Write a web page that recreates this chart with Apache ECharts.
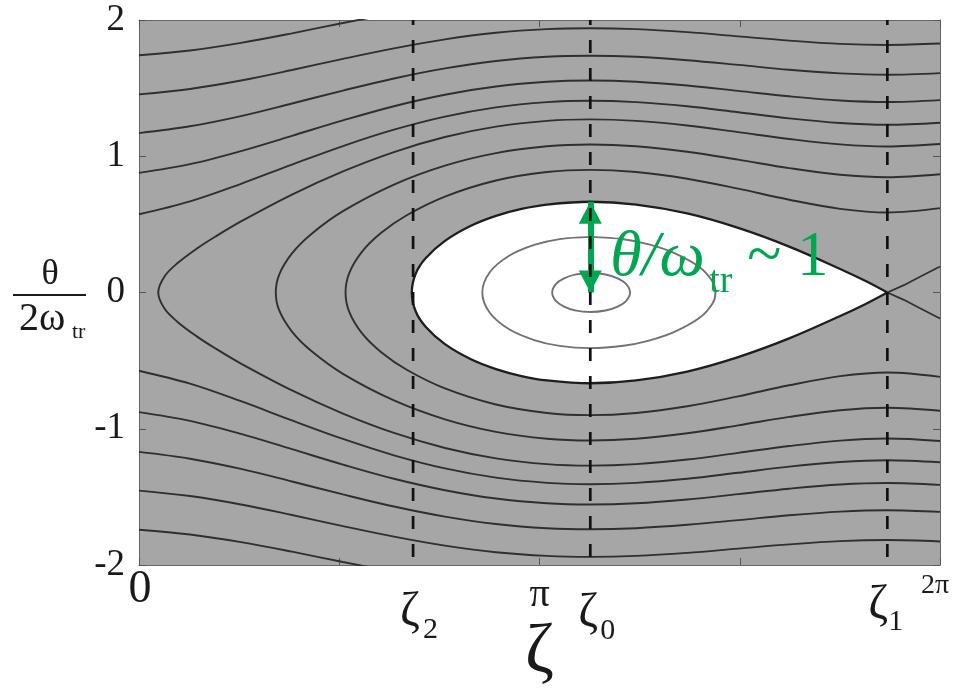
<!DOCTYPE html>
<html><head><meta charset="utf-8">
<script src="https://cdn.jsdelivr.net/npm/echarts@6/dist/echarts.min.js"></script>
<style>html,body{margin:0;padding:0;background:#fff}#c{width:958px;height:693px}</style>
</head><body><div id="c"></div>
<script>
const PI = Math.PI;
// ---- axis ticks / labels ----
const xTickValues = [0, PI / 2, PI, 3 * PI / 2, 2 * PI];
const xLabelValues = [0, PI, 2 * PI];
const xLabelTexts = ['0', 'π', '2π'];
const yTickLabels = ['-2', '-1', '0', '1', '2'];
// ---- special phases (dashed lines) ----
const markerZeta = [2.15, 3.54, 5.87];
const markerSub = ['2', '0', '1'];
// ---- passing orbits ----
const zetaGrid = [0, 0.4, 0.8, 1.2, 1.6, 2.0, 2.4, 2.8, 3.2, 3.54, 3.9, 4.3, 4.7, 5.1, 5.5, 5.87, 6.283];
const pass1Up = [1.454, 1.494, 1.556, 1.633, 1.715, 1.792, 1.858, 1.906, 1.933, 1.940, 1.933, 1.911, 1.880, 1.849, 1.825, 1.817, 1.827];
const pass2Up = [1.170, 1.220, 1.295, 1.387, 1.482, 1.571, 1.645, 1.699, 1.730, 1.738, 1.730, 1.705, 1.671, 1.635, 1.608, 1.598, 1.610];
const pass3Up = [0.878, 0.942, 1.038, 1.150, 1.263, 1.367, 1.451, 1.512, 1.547, 1.556, 1.547, 1.519, 1.480, 1.440, 1.409, 1.398, 1.412];
const pass4Up = [0.574, 0.669, 0.798, 0.939, 1.075, 1.195, 1.291, 1.359, 1.397, 1.407, 1.397, 1.367, 1.323, 1.278, 1.244, 1.231, 1.246];
const pass1Down = [-1.454, -1.494, -1.556, -1.633, -1.715, -1.792, -1.858, -1.906, -1.933, -1.940, -1.933, -1.911, -1.880, -1.849, -1.825, -1.817, -1.827];
const pass2Down = [-1.170, -1.220, -1.295, -1.387, -1.482, -1.571, -1.645, -1.699, -1.730, -1.738, -1.730, -1.705, -1.671, -1.635, -1.608, -1.598, -1.610];
const pass3Down = [-0.878, -0.942, -1.038, -1.150, -1.263, -1.367, -1.451, -1.512, -1.547, -1.556, -1.547, -1.519, -1.480, -1.440, -1.409, -1.398, -1.412];
const pass4Down = [-0.574, -0.669, -0.798, -0.939, -1.075, -1.195, -1.291, -1.359, -1.397, -1.407, -1.397, -1.367, -1.323, -1.278, -1.244, -1.231, -1.246];
// orbit leaving through top / bottom edge
const exitZeta = [0, 0.4, 0.8, 1.2, 1.6, 2.0];
const exitUp = [1.741, 1.776, 1.832, 1.902, 1.978, 2.05];
const exitDown = [-1.741, -1.776, -1.832, -1.902, -1.978, -2.05];
// open (turning) orbits
const open5Zeta = [6.283, 5.87, 5.5, 5.1, 4.7, 4.3, 3.9, 3.54, 3.2, 2.8, 2.4, 2.0, 1.6, 1.2, 0.8, 0.6, 0.45, 0.3, 0.2, 0.151, 0.2, 0.3, 0.45, 0.6, 0.8, 1.2, 1.6, 2.0, 2.4, 2.8, 3.2, 3.54, 3.9, 4.3, 4.7, 5.1, 5.5, 5.87, 6.283];
const open5Y = [1.090, 1.072, 1.087, 1.127, 1.177, 1.226, 1.260, 1.271, 1.260, 1.217, 1.141, 1.031, 0.889, 0.719, 0.522, 0.411, 0.320, 0.214, 0.118, 0, -0.118, -0.214, -0.320, -0.411, -0.522, -0.719, -0.889, -1.031, -1.141, -1.217, -1.260, -1.271, -1.260, -1.226, -1.177, -1.127, -1.087, -1.072, -1.090];
const open6Zeta = [6.283, 5.87, 5.5, 5.1, 4.7, 4.3, 3.9, 3.54, 3.2, 2.8, 2.4, 2.0, 1.6, 1.35, 1.2, 1.1, 1.073, 1.1, 1.2, 1.35, 1.6, 2.0, 2.4, 2.8, 3.2, 3.54, 3.9, 4.3, 4.7, 5.1, 5.5, 5.87, 6.283];
const open6Y = [0.868, 0.846, 0.864, 0.913, 0.975, 1.033, 1.073, 1.086, 1.073, 1.023, 0.931, 0.792, 0.597, 0.428, 0.287, 0.132, 0, -0.132, -0.287, -0.428, -0.597, -0.792, -0.931, -1.023, -1.073, -1.086, -1.073, -1.033, -0.975, -0.913, -0.864, -0.846, -0.868];
const open7Zeta = [6.283, 5.87, 5.5, 5.1, 4.7, 4.3, 3.9, 3.54, 3.2, 2.8, 2.4, 2.1, 1.9, 1.75, 1.65, 1.62, 1.65, 1.75, 1.9, 2.1, 2.4, 2.8, 3.2, 3.54, 3.9, 4.3, 4.7, 5.1, 5.5, 5.87, 6.283];
const open7Y = [0.619, 0.587, 0.614, 0.681, 0.762, 0.835, 0.884, 0.900, 0.884, 0.822, 0.704, 0.567, 0.438, 0.300, 0.144, 0, -0.144, -0.300, -0.438, -0.567, -0.704, -0.822, -0.884, -0.900, -0.884, -0.835, -0.762, -0.681, -0.614, -0.587, -0.619];
// separatrix (bucket) and its tails
const sepZeta = [5.87, 5.7, 5.5, 5.1, 4.7, 4.3, 3.9, 3.54, 3.2, 3.0, 2.8, 2.6, 2.4, 2.25, 2.17, 2.14, 2.17, 2.25, 2.4, 2.6, 2.8, 3.0, 3.2, 3.54, 3.9, 4.3, 4.7, 5.1, 5.5, 5.7, 5.87];
const sepY = [0, 0.084, 0.173, 0.337, 0.474, 0.580, 0.645, 0.666, 0.645, 0.613, 0.562, 0.488, 0.379, 0.253, 0.138, 0, -0.138, -0.253, -0.379, -0.488, -0.562, -0.613, -0.645, -0.666, -0.645, -0.580, -0.474, -0.337, -0.173, -0.084, 0];
const tailZeta = [6.283, 6.1, 6.0, 5.87, 6.0, 6.1, 6.283];
const tailY = [0.191, 0.102, 0.054, 0, -0.054, -0.102, -0.191];
// inner closed orbits
const loopBigZeta = [3.54, 3.8, 4.0, 4.2, 4.4, 4.5, 4.522, 4.5, 4.4, 4.2, 4.0, 3.8, 3.54, 3.3, 3.1, 2.9, 2.75, 2.693, 2.75, 2.9, 3.1, 3.3, 3.54];
const loopBigY = [0.408, 0.391, 0.353, 0.289, 0.184, 0.079, 0, -0.079, -0.184, -0.289, -0.353, -0.391, -0.408, -0.392, -0.349, -0.268, -0.147, 0, 0.147, 0.268, 0.349, 0.392, 0.408];
const loopSmallZeta = [3.54, 3.66, 3.75, 3.82, 3.852, 3.82, 3.75, 3.66, 3.54, 3.42, 3.33, 3.27, 3.241, 3.27, 3.33, 3.42, 3.54];
const loopSmallY = [0.143, 0.132, 0.105, 0.063, 0, -0.063, -0.105, -0.132, -0.143, -0.131, -0.102, -0.062, 0, 0.062, 0.102, 0.131, 0.143];
// annotation arrow: bucket half height at zeta0
const arrowFrom = [3.54, 0];
const arrowTo = [3.54, 0.666];

const serif = '"Liberation Serif", "Times New Roman", serif';
const pairs = (xs, ys) => xs.map((x, i) => [x, ys[i]]);
const contourStyle = { color: '#2f2f2f', width: 1.9 };
function curve(data, style, extra) {
  return Object.assign({ type: 'line', data: data, smooth: 0.35, symbol: 'none', showSymbol: false,
    lineStyle: style, silent: true, animation: false, z: 3, clip: true }, extra || {});
}

const series = [];
// white bucket interior (two halves + seam cover along the symmetry axis)
series.push(curve(pairs(sepZeta.slice(0, 16), sepY.slice(0, 16)), { width: 0, opacity: 0 }, { z: 1, areaStyle: { color: '#ffffff', opacity: 1, origin: 0 } }));
series.push(curve(pairs(sepZeta.slice(15), sepY.slice(15)), { width: 0, opacity: 0 }, { z: 1, areaStyle: { color: '#ffffff', opacity: 1, origin: 0 } }));
series.push(curve([[sepZeta[15], 0], [sepZeta[0], 0]], { color: '#ffffff', width: 3 }, { z: 2, smooth: false }));
// passing orbits
[pass1Up, pass2Up, pass3Up, pass4Up, pass1Down, pass2Down, pass3Down, pass4Down].forEach(ys => series.push(curve(pairs(zetaGrid, ys), contourStyle)));
series.push(curve(pairs(exitZeta, exitUp), contourStyle));
series.push(curve(pairs(exitZeta, exitDown), contourStyle));
series.push(curve(pairs(open5Zeta, open5Y), contourStyle));
series.push(curve(pairs(open6Zeta, open6Y), contourStyle));
series.push(curve(pairs(open7Zeta, open7Y), contourStyle));
// separatrix
series.push(curve(pairs(sepZeta, sepY), { color: '#1e1e1e', width: 2.3 }, { z: 4 }));
series.push(curve(pairs(tailZeta, tailY), { color: '#2f2f2f', width: 1.7 }, { smooth: false }));
// inner orbits
series.push(curve(pairs(loopBigZeta, loopBigY), { color: '#727272', width: 1.9 }));
series.push(curve(pairs(loopSmallZeta, loopSmallY), { color: '#727272', width: 1.9 }));
// dashed markers
markerZeta.forEach(z => series.push(curve([[z, 2], [z, -2]], { color: '#111', width: 2.7, type: [13, 15], dashOffset: 8 }, { smooth: false, z: 5 })));
// green double arrow
series.push({ type: 'line', data: [], silent: true, animation: false, z: 6,
  markLine: { silent: true, animation: false, symbol: ['triangle', 'triangle'], symbolSize: [23, 22],
    symbolOffset: [[0, 11], [0, 11]], label: { show: false },
    lineStyle: { color: '#00a650', width: 6, type: 'solid' },
    emphasis: { disabled: true },
    data: [[{ coord: arrowFrom }, { coord: arrowTo }]] } });

const axisCommon = { type: 'value', splitLine: { show: false },
  axisLine: { show: true, onZero: false, lineStyle: { color: '#666', width: 1 } } };

const option = {
  animation: false,
  backgroundColor: '#ffffff',
  grid: { left: 139, right: 18, top: 20, bottom: 128, show: true, backgroundColor: '#a6a6a6', borderWidth: 0, containLabel: false, outerBoundsMode: 'none' },
  xAxis: [
    Object.assign({}, axisCommon, { position: 'bottom', min: 0, max: 2 * PI,
      axisTick: { show: true, inside: true, length: 7, customValues: xTickValues, lineStyle: { color: '#555' } },
      axisLabel: { show: false } }),
    Object.assign({}, axisCommon, { position: 'top', min: 0, max: 2 * PI,
      axisTick: { show: true, inside: true, length: 7, customValues: xTickValues, lineStyle: { color: '#555' } },
      axisLabel: { show: false } })
  ],
  yAxis: [
    Object.assign({}, axisCommon, { position: 'left', min: -2, max: 2, interval: 1,
      axisTick: { show: true, inside: true, length: 7, lineStyle: { color: '#555' } },
      axisLabel: { show: true, margin: 14, fontFamily: serif, fontSize: 37, color: '#1a1a1a',
        formatter: v => yTickLabels[Math.round(v) + 2] } }),
    Object.assign({}, axisCommon, { position: 'right', min: -2, max: 2, interval: 1,
      axisTick: { show: true, inside: true, length: 7, lineStyle: { color: '#555' } },
      axisLabel: { show: false } })
  ],
  series: series
};

const chart = echarts.init(document.getElementById('c'), null, { renderer: 'canvas', width: 958, height: 693 });
chart.setOption(option);

// ---- text annotations anchored to the axes ----
const toPx = (z, y) => chart.convertToPixel({ xAxisIndex: 0, yAxisIndex: 0 }, [z, y]);
const mid = (baseline, fs) => baseline - 0.3375 * fs;
function txt(text, x, baseline, fs, opt) {
  opt = opt || {};
  return { type: 'text', silent: true, z: 100, style: { text: text, x: x, y: mid(baseline, fs),
    font: (opt.italic ? 'italic ' : '') + fs + 'px ' + serif, fill: opt.color || '#1a1a1a',
    align: opt.align || 'left', textAlign: opt.align || 'left', verticalAlign: 'middle', textVerticalAlign: 'middle' } };
}
const g = [];
const bottomY = toPx(0, -2)[1];
// x tick labels 0, pi, 2pi   [dx, baseline offset, font size]
const xLabelLayout = [[1, 40, 46], [0, 44, 40], [-5, 30, 28]];
xLabelValues.forEach((v, i) => {
  const L = xLabelLayout[i];
  g.push(txt(xLabelTexts[i], toPx(v, -2)[0] + L[0], bottomY + L[1], L[2], { align: 'center' }));
});
// phase markers zeta_2, zeta_0, zeta_1
const markerOffsets = [[-13, 10, 64, 75], [-12, 10, 65, 76], [-19, 1, 57, 67]];
markerZeta.forEach((z, i) => {
  const x = toPx(z, -2)[0];
  const o = markerOffsets[i];
  g.push(txt('ζ', x + o[0], bottomY + o[2], 48));
  g.push(txt(markerSub[i], x + o[1], bottomY + o[3], 30));
});
// axis title zeta under pi
g.push(txt('ζ', toPx(PI, -2)[0], bottomY + 112, 70, { align: 'center' }));
// y axis title: theta / (2 omega_tr)
g.push(txt('θ', 50, 287, 36, { align: 'center' }));
g.push({ type: 'line', silent: true, z: 100, shape: { x1: 13, y1: 295, x2: 86, y2: 295 }, style: { stroke: '#1a1a1a', lineWidth: 2 } });
g.push(txt('2ω', 19, 333, 40));
g.push(txt('tr', 72, 340, 22));
// green annotation
const arrowTopPx = toPx(arrowTo[0], arrowTo[1]);
g.push(txt('θ/ω', arrowTopPx[0] + 20, 280, 64, { italic: true, color: '#00a650' }));
g.push(txt('tr', arrowTopPx[0] + 119, 295, 38, { color: '#00a650' }));
g.push(txt('~ 1', arrowTopPx[0] + 157, 280, 63, { color: '#00a650' }));
chart.setOption({ graphic: { elements: g } });
</script>
</body></html>
